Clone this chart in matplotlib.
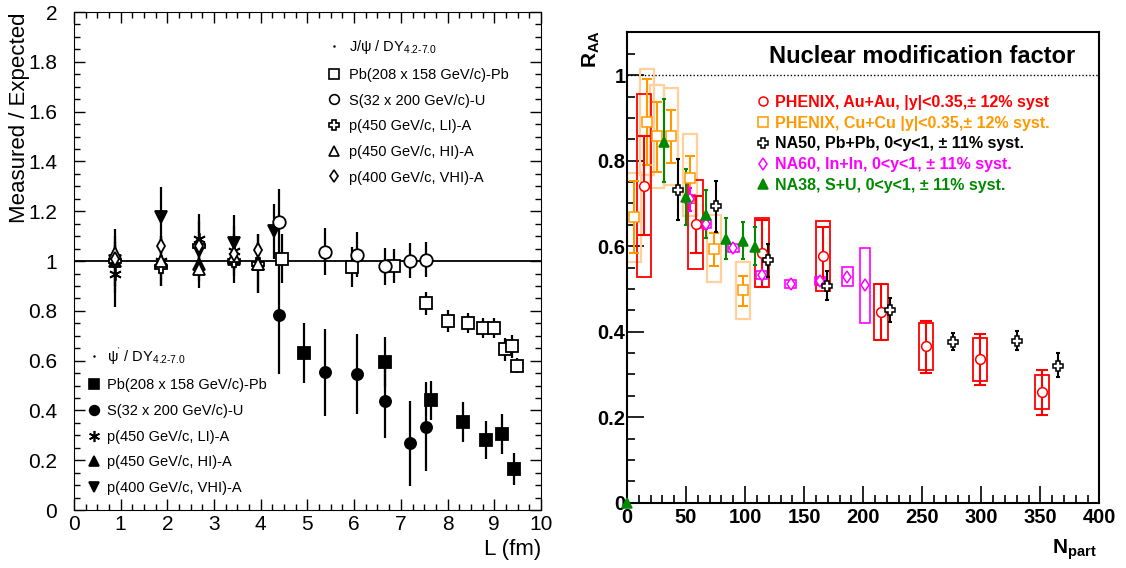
import matplotlib
matplotlib.use('Agg')
import matplotlib.pyplot as plt
from matplotlib.patches import Rectangle
from matplotlib.lines import Line2D
from matplotlib.ticker import MultipleLocator, FormatStrFormatter

plt.rcParams['font.family'] = ['Liberation Sans', 'DejaVu Sans']
plt.rcParams['mathtext.fontset'] = 'custom'
plt.rcParams['mathtext.rm'] = 'Liberation Sans'
plt.rcParams['mathtext.it'] = 'Liberation Sans:italic'
plt.rcParams['mathtext.bf'] = 'Liberation Sans:bold'

# ---------------- left: measured / expected vs L ----------------
# J/psi
pbpb_L = [4.46, 5.95, 6.86, 7.54, 8.02, 8.43, 8.77, 9.00, 9.22, 9.39, 9.48]
pbpb_jpsi = [1.01, 0.975, 0.98, 0.83, 0.76, 0.75, 0.73, 0.73, 0.645, 0.657, 0.58]
pbpb_jpsi_err = [0.10, 0.08, 0.07, 0.047, 0.045, 0.04, 0.04, 0.04, 0.045, 0.045, 0.03]

su_L = [4.39, 5.37, 6.06, 6.65, 7.19, 7.54]
su_jpsi = [1.158, 1.037, 1.026, 0.979, 1.002, 1.006]
su_jpsi_err = [0.13, 0.095, 0.09, 0.075, 0.07, 0.07]

pa_L = [0.88, 1.86, 2.68, 3.43, 3.95]
li_jpsi = [1.0, 0.975, 1.06, 1.0, 0.99]
hi_jpsi = [1.033, 1.0, 0.97, 1.02, 0.99]
vhi_jpsi = [1.01, 1.06, 1.06, 1.03, 1.046]
pa_jpsi_err = [0.03, 0.03, 0.03, 0.03, 0.03]

# psi'
pbpb2_L = [4.92, 6.65, 7.65, 8.34, 8.83, 9.17, 9.42]
pbpb_psi2 = [0.63, 0.594, 0.44, 0.353, 0.282, 0.306, 0.165]
pbpb_psi2_err = [0.12, 0.10, 0.08, 0.08, 0.075, 0.08, 0.065]

su_psi2 = [0.785, 0.554, 0.546, 0.439, 0.268, 0.335]
su_psi2_err = [0.24, 0.175, 0.16, 0.15, 0.17, 0.18]

li_psi2 = [0.946, 1.0, 1.087, 1.04, 0.99]
li_psi2_err = [0.13, 0.10, 0.10, 0.10, 0.12]
hi_psi2 = [1.0, 1.0, 0.99, 1.01, 0.99]
hi_psi2_err = [0.10, 0.10, 0.10, 0.10, 0.12]
vhi2_L = [0.88, 1.86, 2.68, 3.43, 4.29]
vhi_psi2 = [1.0, 1.178, 1.04, 1.073, 1.12]
vhi_psi2_err = [0.13, 0.12, 0.12, 0.11, 0.11]

# ---------------- right: R_AA vs Npart ----------------
au_npart = [14.4, 58.1, 114.0, 166.2, 214.8, 253.5, 299.2, 351.7]
au_raa = [0.740, 0.651, 0.584, 0.577, 0.446, 0.366, 0.335, 0.258]
au_stat_lo = [0.625, 0.584, 0.504, 0.510, 0.380, 0.304, 0.275, 0.205]
au_stat_hi = [0.858, 0.718, 0.662, 0.644, 0.512, 0.426, 0.395, 0.311]
au_box_lo = [0.528, 0.547, 0.504, 0.494, 0.380, 0.310, 0.284, 0.218]
au_box_hi = [0.956, 0.755, 0.666, 0.658, 0.512, 0.420, 0.386, 0.298]

cu_npart = [6.2, 16.7, 25.7, 37.0, 53.3, 73.7, 98.0]
cu_raa = [0.669, 0.891, 0.857, 0.857, 0.760, 0.594, 0.497]
cu_stat_lo = [0.584, 0.790, 0.774, 0.794, 0.703, 0.553, 0.460]
cu_stat_hi = [0.752, 0.991, 0.936, 0.919, 0.810, 0.631, 0.531]
cu_box_lo = [0.563, 0.767, 0.735, 0.742, 0.670, 0.515, 0.430]
cu_box_hi = [0.771, 1.014, 0.977, 0.969, 0.862, 0.673, 0.563]

na50_npart = [43.5, 75.4, 119.7, 169.6, 222.7, 276.0, 330.0, 365.0]
na50_raa = [0.732, 0.693, 0.567, 0.506, 0.451, 0.376, 0.378, 0.320]
na50_lo = [0.660, 0.634, 0.528, 0.473, 0.423, 0.356, 0.356, 0.293]
na50_hi = [0.805, 0.752, 0.604, 0.542, 0.479, 0.397, 0.401, 0.349]

na60_npart = [53.3, 66.9, 90.0, 114.0, 138.6, 163.4, 186.5, 201.5]
na60_raa = [0.710, 0.651, 0.595, 0.532, 0.512, 0.518, 0.529, 0.508]
na60_lo = [0.683, 0.641, 0.586, 0.523, 0.503, 0.509, 0.529, 0.508]
na60_hi = [0.735, 0.661, 0.604, 0.541, 0.521, 0.527, 0.529, 0.508]
na60_box_lo = [0.700, 0.642, 0.586, 0.523, 0.503, 0.509, 0.507, 0.421]
na60_box_hi = [0.720, 0.660, 0.604, 0.541, 0.521, 0.527, 0.551, 0.595]

na38_npart = [0.0, 31.6, 50.0, 66.9, 83.8, 98.5, 108.4]
na38_raa = [0.0, 0.843, 0.714, 0.674, 0.617, 0.612, 0.598]
na38_lo = [0.0, 0.749, 0.650, 0.619, 0.570, 0.569, 0.557]
na38_hi = [0.0, 0.944, 0.781, 0.731, 0.666, 0.656, 0.644]

labels_right = ['PHENIX, Au+Au, |y|<0.35,\u00b1 12% syst',
                'PHENIX, Cu+Cu |y|<0.35,\u00b1 12% syst.',
                'NA50, Pb+Pb, 0<y<1, \u00b1 11% syst.',
                'NA60, In+In, 0<y<1, \u00b1 11% syst.',
                'NA38, S+U, 0<y<1, \u00b1 11% syst.']

RED = '#ff0000'
ORANGE = '#ff9900'
PEACH = '#ffd09a'
MAGENTA = '#ff00ff'
GREEN = '#008a00'

fig = plt.figure(figsize=(11.26, 5.68), dpi=100)
ax1 = fig.add_axes([0.0657, 0.102, 0.4147, 0.8768])
ax2 = fig.add_axes([0.5568, 0.115, 0.4196, 0.828])

# ---- left panel ----
ax1.axhline(1.0, color='black', lw=1.3, zorder=1)


def lplot(x, y, err, marker, filled, ms=8):
    ax1.errorbar(x, y, yerr=err, fmt='none', ecolor='black', elinewidth=1.6, zorder=2)
    ax1.plot(x, y, ls='none', marker=marker, ms=ms, mec='black', mew=1.3,
             mfc='black' if filled else 'white', zorder=3)


lplot(pa_L, li_psi2, li_psi2_err, (6, 2, 0), True, 9)
lplot(pa_L, hi_psi2, hi_psi2_err, '^', True)
lplot(vhi2_L, vhi_psi2, vhi_psi2_err, 'v', True, 9)
lplot(pa_L, li_jpsi, pa_jpsi_err, 'P', False)
lplot(pa_L, hi_jpsi, pa_jpsi_err, '^', False)
lplot(pa_L, vhi_jpsi, pa_jpsi_err, 'd', False, 7)
lplot(pbpb2_L, pbpb_psi2, pbpb_psi2_err, 's', True)
lplot(su_L, su_psi2, su_psi2_err, 'o', True)
lplot(pbpb_L, pbpb_jpsi, pbpb_jpsi_err, 's', False, 8.5)
lplot(su_L, su_jpsi, su_jpsi_err, 'o', False, 9)

ax1.set_xlim(0, 10)
ax1.set_ylim(0, 2)
ax1.xaxis.set_major_locator(MultipleLocator(1))
ax1.xaxis.set_minor_locator(MultipleLocator(0.25))
ax1.yaxis.set_major_locator(MultipleLocator(0.2))
ax1.yaxis.set_minor_locator(MultipleLocator(0.05))
ax1.yaxis.set_major_formatter(FormatStrFormatter('%g'))
ax1.tick_params(which='both', direction='in', top=True, right=True, labelsize=15)
ax1.tick_params(which='major', length=8, width=1)
ax1.tick_params(which='minor', length=4, width=1)
ax1.tick_params(axis='y', pad=12)
ax1.set_ylabel('Measured / Expected', fontsize=16, loc='top')
ax1.yaxis.set_label_coords(-0.095, 1.0)
ax1.set_xlabel('L (fm)', fontsize=16, loc='right', labelpad=4)


def lhandle(marker, filled, ms=7):
    return Line2D([], [], ls='none', marker=marker, ms=ms, mec='black', mew=1.2,
                  mfc='black' if filled else 'white')


dot = Line2D([], [], ls='none', marker='.', ms=1.5, color='black')
names = ['Pb(208 x 158 GeV/c)-Pb', 'S(32 x 200 GeV/c)-U', 'p(450 GeV/c, LI)-A',
         'p(450 GeV/c, HI)-A', 'p(400 GeV/c, VHI)-A']
h_open = [dot, lhandle('s', False), lhandle('o', False), lhandle('P', False),
          lhandle('^', False), lhandle('d', False, 6)]
h_fill = [dot, lhandle('s', True), lhandle('o', True), lhandle((6, 2, 0), True, 8),
          lhandle('^', True), lhandle('v', True)]
leg1 = ax1.legend(h_open, ['J/\u03c8 / DY$_{4.2\u20107.0}$'] + names, loc='upper left',
                  bbox_to_anchor=(0.525, 0.962), frameon=False, fontsize=10.5,
                  handlelength=1.0, handletextpad=0.55, labelspacing=0.8, borderpad=0)
ax1.add_artist(leg1)
ax1.legend(h_fill, ["\u03c8$^{'}$ / DY$_{4.2\u20107.0}$"] + names, loc='upper left',
           bbox_to_anchor=(0.012, 0.346), frameon=False, fontsize=10.5,
           handlelength=1.0, handletextpad=0.4, labelspacing=0.8, borderpad=0)

# ---- right panel ----
ax2.axhline(1.0, color='black', lw=1.0, ls=(0, (1, 1.5)), zorder=1)


def boxes(x, lo, hi, half, color, lw):
    for xi, l, h in zip(x, lo, hi):
        ax2.add_patch(Rectangle((xi - half, l), 2 * half, h - l, fill=False,
                                ec=color, lw=lw, zorder=2))


boxes(cu_npart, cu_box_lo, cu_box_hi, 6, PEACH, 1.6)
boxes(au_npart, au_box_lo, au_box_hi, 6, RED, 1.3)
boxes(na60_npart, na60_box_lo, na60_box_hi, 4.5, MAGENTA, 1.2)


def rplot(x, y, lo, hi, color, marker, filled, ms, cap):
    yerr = [[yi - l for yi, l in zip(y, lo)], [h - yi for yi, h in zip(y, hi)]]
    ax2.errorbar(x, y, yerr=yerr, fmt='none', ecolor=color, elinewidth=1.5,
                 capsize=cap, capthick=1.5, zorder=3)
    ax2.plot(x, y, ls='none', marker=marker, ms=ms, mec=color, mew=1.1,
             mfc=color if filled else 'white', zorder=4, clip_on=False)


rplot(cu_npart, cu_raa, cu_stat_lo, cu_stat_hi, ORANGE, 's', False, 6.5, 3.5)
rplot(au_npart, au_raa, au_stat_lo, au_stat_hi, RED, 'o', False, 7, 4.5)
rplot(na60_npart, na60_raa, na60_lo, na60_hi, MAGENTA, 'd', False, 6, 1.5)
rplot(na38_npart, na38_raa, na38_lo, na38_hi, GREEN, '^', True, 6.5, 1.5)
rplot(na50_npart, na50_raa, na50_lo, na50_hi, 'black', 'P', False, 7, 1.5)

ax2.set_xlim(0, 400)
ax2.set_ylim(0, 1.1)
ax2.xaxis.set_major_locator(MultipleLocator(50))
ax2.xaxis.set_minor_locator(MultipleLocator(10))
ax2.yaxis.set_major_locator(MultipleLocator(0.2))
ax2.yaxis.set_minor_locator(MultipleLocator(0.05))
ax2.yaxis.set_major_formatter(FormatStrFormatter('%g'))
ax2.tick_params(which='both', direction='in', labelsize=14.5, width=1.2)
ax2.tick_params(which='major', length=12)
ax2.tick_params(which='minor', length=6)
ax2.tick_params(axis='y', pad=1)
for lab in ax2.get_xticklabels() + ax2.get_yticklabels():
    lab.set_fontweight('bold')
for sp in ax2.spines.values():
    sp.set_linewidth(1.5)
ax2.set_ylabel(r'$\mathbf{R_{AA}}$', fontsize=15, loc='top')
ax2.yaxis.set_label_coords(-0.052, 1.005)
ax2.set_xlabel(r'$\mathbf{N_{part}}$', fontsize=15, loc='right')
ax2.xaxis.set_label_coords(0.993, -0.075)
ax2.text(0.948, 0.948, 'Nuclear modification factor', transform=ax2.transAxes,
         ha='right', va='center', fontsize=17, fontweight='bold')

rh = [Line2D([], [], ls='none', marker='o', ms=6.5, mec=RED, mfc='white', mew=1.1),
      Line2D([], [], ls='none', marker='s', ms=6.5, mec=ORANGE, mfc='white', mew=1.1),
      Line2D([], [], ls='none', marker='P', ms=7, mec='black', mfc='white', mew=1.1),
      Line2D([], [], ls='none', marker='d', ms=6.5, mec=MAGENTA, mfc='white', mew=1.1),
      Line2D([], [], ls='none', marker='^', ms=6.5, mec=GREEN, mfc=GREEN, mew=1.1)]
leg = ax2.legend(rh, labels_right, loc='upper left', bbox_to_anchor=(0.258, 0.884),
                 frameon=False, handlelength=0.8, handletextpad=0.35,
                 labelspacing=0.36, borderpad=0, prop={'size': 11.5, 'weight': 'bold'})
for t, c in zip(leg.get_texts(), [RED, ORANGE, 'black', MAGENTA, GREEN]):
    t.set_color(c)

fig.savefig('out.png', dpi=100)
